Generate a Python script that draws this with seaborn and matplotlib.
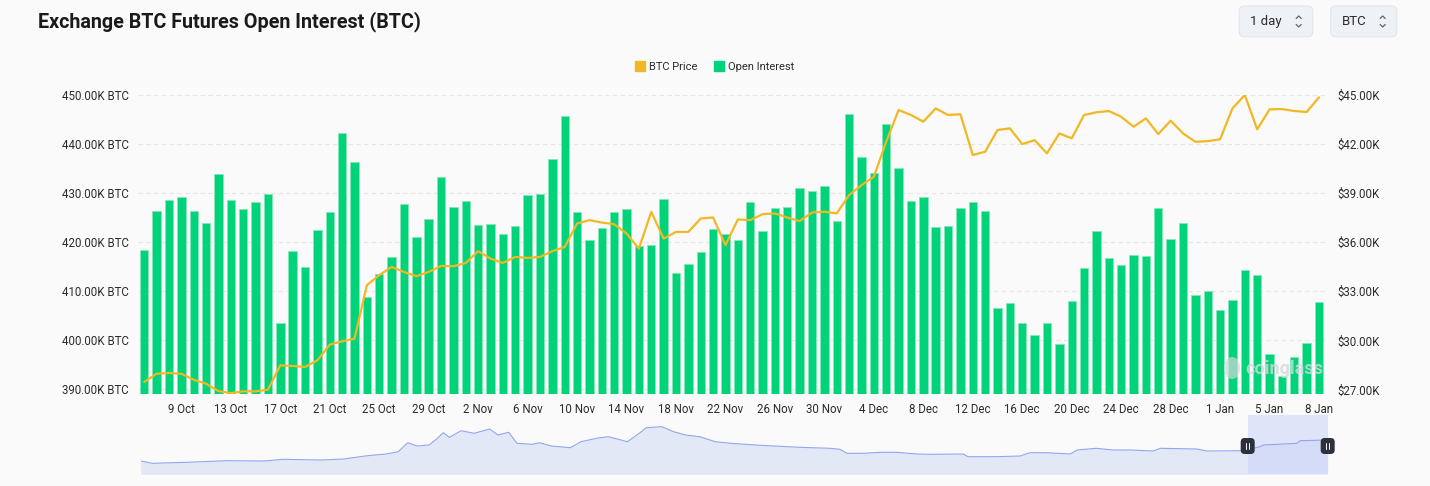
import numpy as np
import pandas as pd
import matplotlib
matplotlib.use("Agg")
import matplotlib.pyplot as plt
from matplotlib.lines import Line2D
from matplotlib.patches import FancyBboxPatch, Ellipse
from matplotlib.ticker import FuncFormatter
import seaborn as sns

# daily open interest, thousand BTC (6 Oct .. 8 Jan)
open_interest = [
    418.5, 426.3, 428.6, 429.2, 426.3, 423.9, 433.8, 428.5, 426.7, 428.2, 429.9, 403.6,
    418.2, 414.9, 422.4, 426.2, 442.3, 436.3, 408.8, 413.5, 416.9, 427.7, 421.0, 424.8,
    433.3, 427.1, 428.4, 423.5, 423.8, 421.7, 423.3, 429.6,
    429.8, 437.0, 445.7, 426.1, 420.4, 422.8, 426.1, 426.7, 419.3, 419.5, 428.8, 413.7,
    415.5, 418.1, 422.6, 421.7, 420.4, 428.1, 422.2, 427.0, 427.2, 431.1, 430.5, 431.4,
    424.4, 446.2, 437.3, 434.2, 444.0, 435.2, 428.3, 429.2,
    423.1, 423.3, 427.0, 428.1, 426.3, 406.5, 407.6, 403.5, 401.0, 403.5, 399.3, 408.0,
    414.8, 422.3, 416.7, 415.4, 417.4, 417.2, 426.9, 420.7, 424.0, 409.2, 410.1, 406.1,
    408.2, 414.3, 413.3, 397.3, 392.8, 396.7, 399.5, 407.9,
]

# BTC price, thousand USD
btc_price = [
    27.45, 27.96, 28.00, 27.96, 27.59, 27.35, 26.90, 26.77, 26.88, 26.88, 26.98, 28.47,
    28.43, 28.37, 28.78, 29.74, 29.94, 30.10, 33.37, 33.98, 34.49, 34.18, 33.92, 34.18,
    34.55, 34.53, 34.73, 35.45, 35.00, 34.73, 35.10, 35.04,
    35.10, 35.45, 35.71, 37.14, 37.35, 37.20, 37.10, 36.53, 35.61, 37.86, 36.22, 36.63,
    36.63, 37.45, 37.51, 35.82, 37.39, 37.35, 37.71, 37.76, 37.51, 37.29, 37.82, 37.86,
    37.76, 38.88, 39.49, 40.00, 42.14, 44.08, 43.78, 43.37,
    44.18, 43.78, 43.82, 41.33, 41.53, 42.86, 42.96, 42.00, 42.24, 41.43, 42.65, 42.35,
    43.78, 43.94, 44.02, 43.67, 43.06, 43.57, 42.61, 43.43, 42.65, 42.14, 42.18, 42.29,
    44.18, 45.00, 42.90, 44.12, 44.14, 44.02, 43.96, 44.86,
]

tick_labels = [
    "9 Oct", "13 Oct", "17 Oct", "21 Oct", "25 Oct", "29 Oct", "2 Nov", "6 Nov",
    "10 Nov", "14 Nov", "18 Nov", "22 Nov", "26 Nov", "30 Nov", "4 Dec", "8 Dec",
    "12 Dec", "16 Dec", "20 Dec", "24 Dec", "28 Dec", "1 Jan", "5 Jan", "8 Jan",
]

# full-history preview in the zoom slider (position in %, relative level)
overview_pct = [
    0, 1.0, 3.9, 7.2, 10.4, 12.0, 13.6, 15.2, 17.1, 19.1, 20.7, 21.7, 22.5, 23.3, 24.3,
    24.9, 25.5, 26.0, 27.0, 28.1, 29.4, 30.1, 31.0, 31.7, 33.0, 33.6, 34.6, 36.2, 37.1,
    38.4, 39.4, 41.0, 42.0, 42.6, 43.9, 44.9, 45.9, 47.1, 48.4, 49.7, 52.2, 55.5, 58.1,
    58.9, 59.5, 60.9, 62.3, 63.7, 65.4, 66.5, 69.3, 69.7, 72.1, 74.1, 74.9, 76.3, 78.3,
    78.9, 80.5, 81.9, 83.4, 85.3, 85.9, 89.0, 89.8, 92.9, 94.3, 94.6, 97.4, 97.7, 100,
]
overview_val = [
    13.3, 11, 12, 13.6, 13.3, 15, 14.6, 14.3, 15.3, 18.6, 20.3, 22.6, 31.6, 28.3, 29.3,
    35, 41.6, 37, 43.6, 41, 45.3, 39.3, 42, 31, 30, 31.6, 28.3, 26.6, 32.6,
    36, 37.6, 32.6, 41, 46.6, 47.6, 42.6, 39.3, 37.6, 32.6, 31, 29, 27, 26,
    25, 21, 21, 22, 22, 20.3, 20, 20.3, 17.6, 17.6, 18.3, 21.6, 21.6, 20.3,
    24.3, 26, 24.3, 24.3, 23.3, 26, 25.3, 23.3, 23.6, 27.6, 29.3, 31, 33.6, 34.3,
]

BG = "#fafafa"
GREEN = "#00d37a"
YELLOW = "#f2b824"
TXT = "#2b2b2b"

sns.set_theme(style="white")
plt.rcParams["font.family"] = ["Roboto", "DejaVu Sans"]

n = len(open_interest)
df = pd.DataFrame({"day": np.arange(n), "oi": open_interest, "price": btc_price})

fig = plt.figure(figsize=(14.3, 4.86), dpi=100, facecolor=BG)
W, H = 1430, 486

ax = fig.add_axes([138.1 / W, 1 - 394.3 / H, (1325.2 - 138.1) / W, (394.3 - 95) / H])
ax.set_facecolor(BG)
sns.barplot(data=df, x="day", y="oi", color=GREEN, saturation=1, width=0.68,
            edgecolor="#86e8bb", linewidth=0.6, ax=ax, zorder=2)
ax.set_ylim(389.0, 450.0)
ax.set_yticks(np.arange(390, 451, 10))
ax.yaxis.set_major_formatter(FuncFormatter(lambda v, p: f"{v:.2f}K BTC"))
ax.grid(axis="y", color="#e6e6e6", linestyle=(0, (4, 3)), linewidth=0.8, zorder=0)
ax.set_axisbelow(True)

tick_pos = list(range(3, 92, 4)) + [n - 1]
ax.set_xticks(tick_pos)
ax.set_xticklabels(tick_labels)
ax.set_xlabel("")
ax.set_ylabel("")
ax.tick_params(axis="x", length=0, pad=6, labelsize=8.3, labelcolor=TXT)
ax.tick_params(axis="y", length=0, pad=6.5, labelsize=8.3, labelcolor=TXT)
for s in ax.spines.values():
    s.set_visible(False)

ax2 = ax.twinx()
sns.lineplot(data=df, x="day", y="price", color=YELLOW, linewidth=1.6, ax=ax2, zorder=3)
ax2.set_ylim(26.7, 45.0)
ax2.set_yticks(np.arange(27, 46, 3))
ax2.yaxis.set_major_formatter(FuncFormatter(lambda v, p: f"${v:.2f}K"))
ax2.set_ylabel("")
ax2.tick_params(axis="y", length=0, pad=8.5, labelsize=8.3, labelcolor=TXT)
for s in ax2.spines.values():
    s.set_visible(False)
ax.set_xlim(-0.5, n - 0.5)

# legend
handles = [
    Line2D([], [], marker="s", linestyle="", markersize=6.5, color=YELLOW, label="BTC Price"),
    Line2D([], [], marker="s", linestyle="", markersize=6.5, color=GREEN, label="Open Interest"),
]
fig.legend(handles=handles, loc="center", bbox_to_anchor=(0.5, 1 - 67 / H), ncol=2,
           frameon=False, fontsize=8, handlelength=0.8, handletextpad=0.4,
           columnspacing=1.6, labelcolor=TXT)

# zoom slider with preview
axs = fig.add_axes([140.7 / W, 1 - 474.3 / H, 1187 / W, 59.3 / H])
axs.set_facecolor(BG)
axs.fill_between(overview_pct, overview_val, 0, color="#e3e8f7", linewidth=0)
sns.lineplot(x=overview_pct, y=overview_val, color="#91a6ef", linewidth=0.8, ax=axs)
axs.axvspan(93.26, 100, ymin=0, ymax=1, color="#c9d3f7", alpha=0.55, linewidth=0)
axs.set_xlim(0, 100)
axs.set_ylim(0, 59.3)
axs.axis("off")

# overlay in pixel coordinates for title and controls
ov = fig.add_axes([0, 0, 1, 1])
ov.set_xlim(0, W)
ov.set_ylim(H, 0)
ov.axis("off")
ov.patch.set_alpha(0)

ov.text(38, 22, "Exchange BTC Futures Open Interest (BTC)", fontsize=14.2, fontweight="bold",
        color="#1a1a1a", va="center", ha="left")

for x0, x1, label in [(1239.3, 1312.7, "1 day"), (1330.7, 1396.7, "BTC")]:
    ov.add_patch(FancyBboxPatch((x0, 6), x1 - x0, 30.7, boxstyle="round,pad=0,rounding_size=5",
                                facecolor="#eef2f7", edgecolor="#e2e6ec", linewidth=0.8))
    ov.text(x0 + 11, 21.5, label, fontsize=9.5, color=TXT, va="center", ha="left")
    cx = x1 - 14
    ov.plot([cx - 2.5, cx, cx + 2.5], [18.5, 16, 18.5], color="#666666", linewidth=0.9)
    ov.plot([cx - 2.5, cx, cx + 2.5], [24.5, 27, 24.5], color="#666666", linewidth=0.9)

# slider handles
for hx in (1247.7, 1327.7):
    ov.add_patch(FancyBboxPatch((hx - 7, 438), 14, 16, boxstyle="round,pad=0,rounding_size=4",
                                facecolor="#2c313c", edgecolor="none"))
    ov.plot([hx - 1.3, hx - 1.3], [443, 449], color="white", linewidth=0.7)
    ov.plot([hx + 1.3, hx + 1.3], [443, 449], color="white", linewidth=0.7)

# watermark
ov.add_patch(Ellipse((1232, 368), 16, 22, facecolor="#d5d9dc", edgecolor="none", alpha=0.7))
ov.text(1245, 369, "coinglass", fontsize=13, fontweight="bold", color="#d5d9dc",
        alpha=0.8, va="center", ha="left")

fig.savefig("out.png", dpi=100, facecolor=BG)
